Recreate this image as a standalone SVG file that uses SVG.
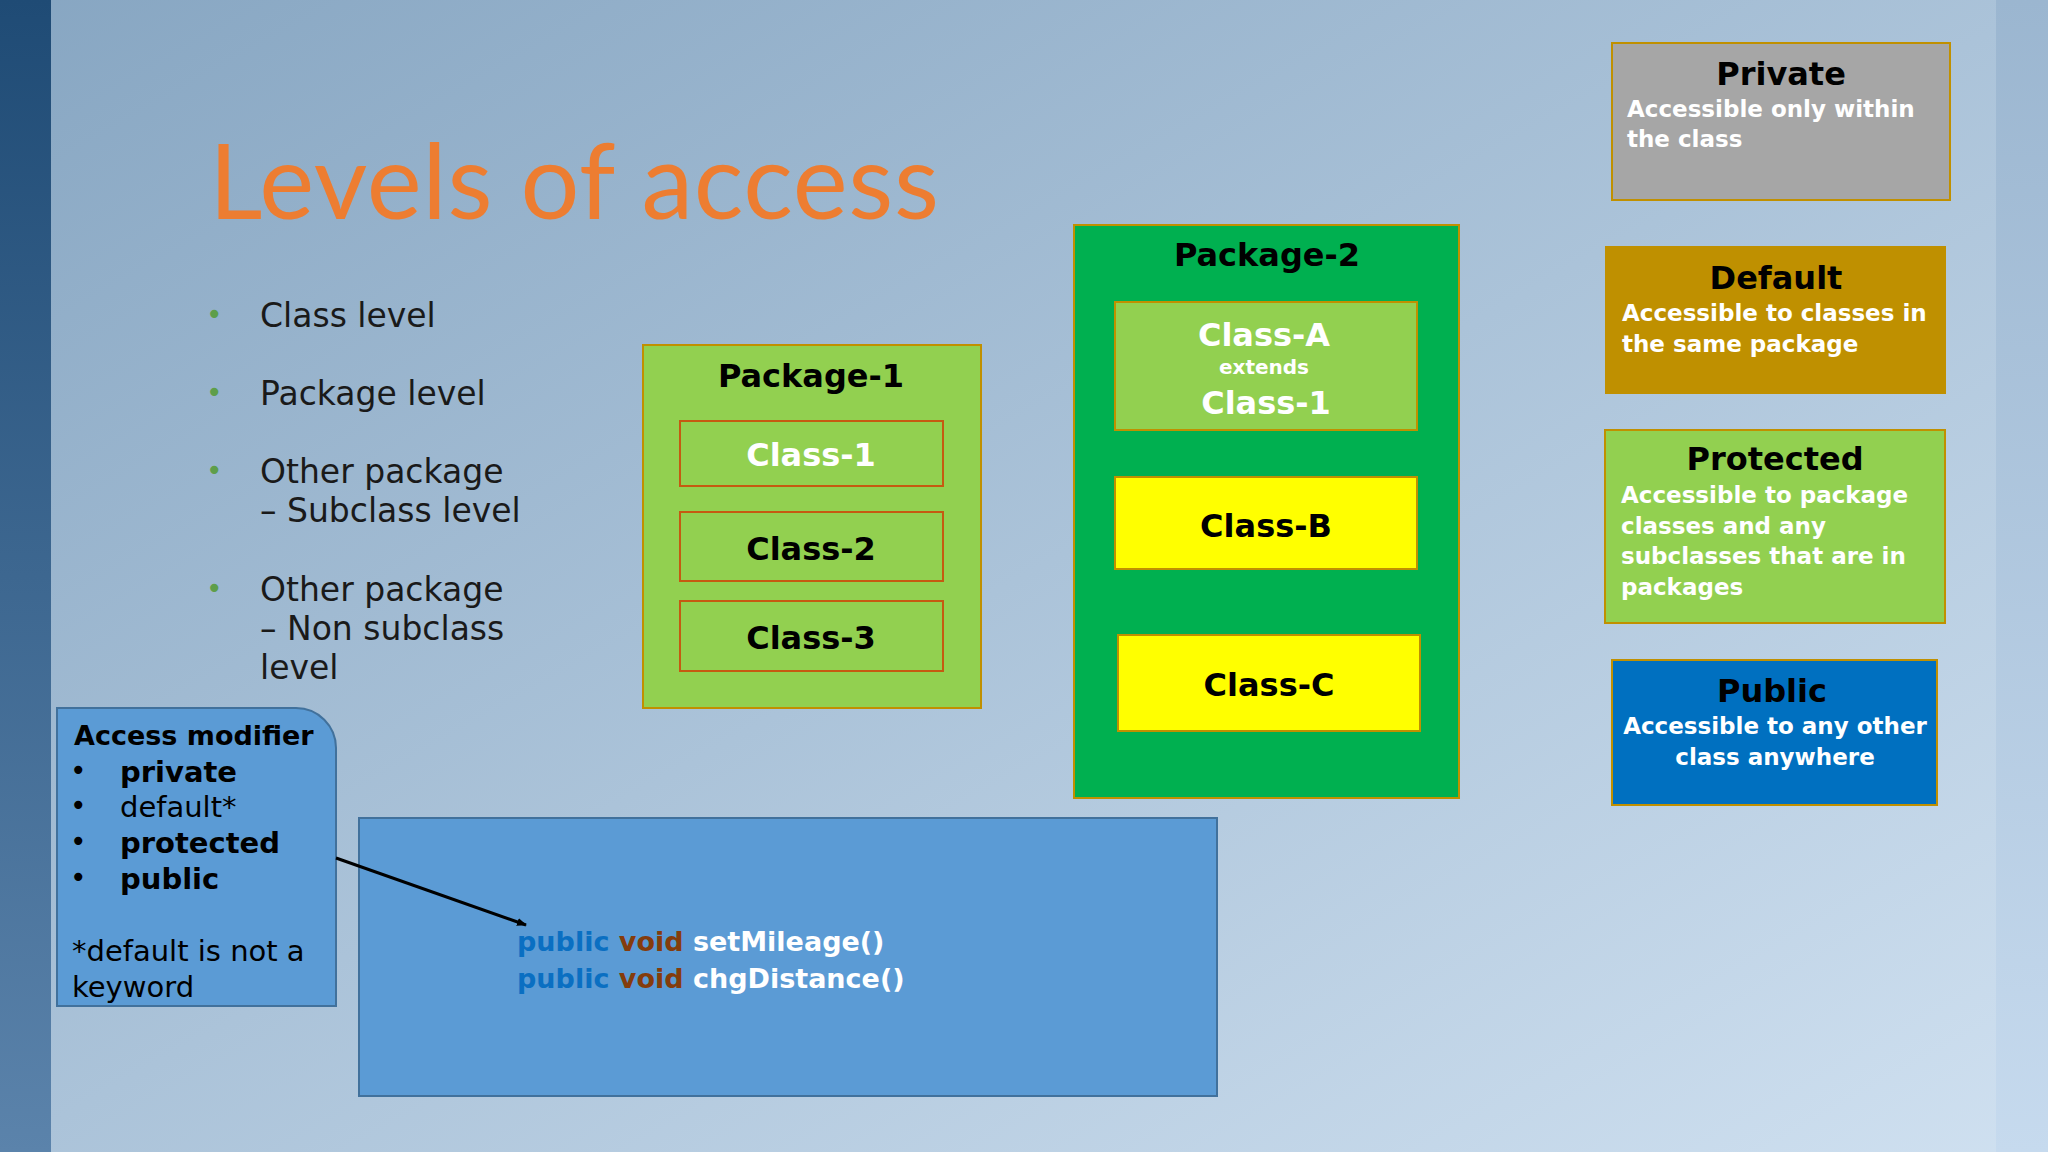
<svg xmlns="http://www.w3.org/2000/svg" width="2048" height="1152" viewBox="0 0 2048 1152">
<defs>
<linearGradient id="bg" x1="0" y1="0" x2="1" y2="1"><stop offset="0" stop-color="#87a6c2"/><stop offset="1" stop-color="#cfe0f0"/></linearGradient>
<linearGradient id="lbar" x1="0" y1="0" x2="0" y2="1"><stop offset="0" stop-color="#1f4b75"/><stop offset="1" stop-color="#5b83ab"/></linearGradient>
<linearGradient id="rbar" x1="0" y1="0" x2="0" y2="1"><stop offset="0" stop-color="#9bb6d0"/><stop offset="1" stop-color="#c6daee"/></linearGradient>
<marker id="ah" markerWidth="10" markerHeight="8" refX="9" refY="4" orient="auto" markerUnits="userSpaceOnUse"><path d="M0,0 L10,4 L0,8 z" fill="#000"/></marker>
</defs>
<style>
text{font-family:"DejaVu Sans","Noto Sans",sans-serif}
.b{font-weight:bold}
.bul{font-size:33px;fill:#1a1a1a}
.dot{font-size:28px;fill:#5e9e4a}
.cls{font-size:32px;font-weight:bold;text-anchor:middle}
.lt{font-size:32px;font-weight:bold;text-anchor:middle;fill:#000}
.ld{font-size:23px;font-weight:bold;fill:#fff}
.am{font-size:29px;fill:#000}
.code{font-size:27px;font-weight:bold}
</style>
<rect width="2048" height="1152" fill="url(#bg)"/>
<rect width="51" height="1152" fill="url(#lbar)"/>
<rect x="1996" width="52" height="1152" fill="url(#rbar)"/>
<text x="209" y="219" font-size="104" fill="#ed7d31" style="font-family:Lato,sans-serif" textLength="730">Levels of access</text>
<g id="bullets">
<text class="dot" x="206" y="324">•</text><text class="bul" x="260" y="327">Class level</text>
<text class="dot" x="206" y="402">•</text><text class="bul" x="260" y="405">Package level</text>
<text class="dot" x="206" y="480">•</text><text class="bul" x="260" y="483">Other package</text><text class="bul" x="260" y="522">– Subclass level</text>
<text class="dot" x="206" y="598">•</text><text class="bul" x="260" y="601">Other package</text><text class="bul" x="260" y="640">– Non subclass</text><text class="bul" x="260" y="679">level</text>
</g>
<g id="package1">
<rect x="643" y="345" width="338" height="363" fill="#92d050" stroke="#c09000" stroke-width="2"/>
<text class="lt" x="811" y="387">Package-1</text>
<rect x="680" y="421" width="263" height="65" fill="#92d050" stroke="#c55a11" stroke-width="2"/>
<text class="cls" x="811" y="466" fill="#fff">Class-1</text>
<rect x="680" y="512" width="263" height="69" fill="#92d050" stroke="#c55a11" stroke-width="2"/>
<text class="cls" x="811" y="560" fill="#000">Class-2</text>
<rect x="680" y="601" width="263" height="70" fill="#92d050" stroke="#c55a11" stroke-width="2"/>
<text class="cls" x="811" y="649" fill="#000">Class-3</text>
</g>
<g id="package2">
<rect x="1074" y="225" width="385" height="573" fill="#00b050" stroke="#c09000" stroke-width="2"/>
<text class="lt" x="1267" y="266">Package-2</text>
<rect x="1115" y="302" width="302" height="128" fill="#92d050" stroke="#c09000" stroke-width="2"/>
<text class="cls" x="1264" y="346" fill="#fff">Class-A</text>
<text x="1264" y="374" font-size="20" font-weight="bold" fill="#fff" text-anchor="middle">extends</text>
<text class="cls" x="1266" y="414" fill="#fff">Class-1</text>
<rect x="1115" y="477" width="302" height="92" fill="#ffff00" stroke="#c09000" stroke-width="2"/>
<text class="cls" x="1266" y="537" fill="#000">Class-B</text>
<rect x="1118" y="635" width="302" height="96" fill="#ffff00" stroke="#c09000" stroke-width="2"/>
<text class="cls" x="1269" y="696" fill="#000">Class-C</text>
</g>
<g id="private">
<rect x="1612" y="43" width="338" height="157" fill="#a6a6a6" stroke="#c09000" stroke-width="2"/>
<text class="lt" x="1781" y="85">Private</text>
<text class="ld" x="1627" y="117">Accessible only within</text><text class="ld" x="1627" y="147">the class</text>
</g>
<g id="default">
<rect x="1606" y="247" width="339" height="146" fill="#bf9000" stroke="#c09000" stroke-width="2"/>
<text class="lt" x="1776" y="289">Default</text>
<text class="ld" x="1622" y="321">Accessible to classes in</text><text class="ld" x="1622" y="352">the same package</text>
</g>
<g id="protected">
<rect x="1605" y="430" width="340" height="193" fill="#92d050" stroke="#c09000" stroke-width="2"/>
<text class="lt" x="1775" y="470">Protected</text>
<text class="ld" x="1621" y="503">Accessible to package</text><text class="ld" x="1621" y="534">classes and any</text><text class="ld" x="1621" y="564">subclasses that are in</text><text class="ld" x="1621" y="595">packages</text>
</g>
<g id="public">
<rect x="1612" y="660" width="325" height="145" fill="#0070c0" stroke="#c09000" stroke-width="2"/>
<text class="lt" x="1772" y="702">Public</text>
<text class="ld" x="1775" y="734" text-anchor="middle">Accessible to any other</text><text class="ld" x="1775" y="765" text-anchor="middle">class anywhere</text>
</g>
<g id="modifier">
<path d="M57,708 H296 A40,40 0 0 1 336,748 V1006 H57 Z" fill="#5b9bd5" stroke="#41719c" stroke-width="2"/>
<text class="b" x="74" y="745" font-size="27">Access modifier</text>
<text x="70" y="780" font-size="28">•</text><text class="am b" x="120" y="782">private</text>
<text x="70" y="815" font-size="28">•</text><text class="am" x="120" y="817">default*</text>
<text x="70" y="851" font-size="28">•</text><text class="am b" x="120" y="853">protected</text>
<text x="70" y="887" font-size="28">•</text><text class="am b" x="120" y="889">public</text>
<text class="am" x="72" y="961">*default is not a</text>
<text class="am" x="72" y="997">keyword</text>
</g>
<g id="code">
<rect x="359" y="818" width="858" height="278" fill="#5b9bd5" stroke="#41719c" stroke-width="2"/>
<text class="code" x="517" y="951"><tspan fill="#0a6fc2">public</tspan> <tspan fill="#843c0c">void</tspan> <tspan fill="#fff">setMileage()</tspan></text>
<text class="code" x="517" y="988"><tspan fill="#0a6fc2">public</tspan> <tspan fill="#843c0c">void</tspan> <tspan fill="#fff">chgDistance()</tspan></text>
</g>
<g id="connectors">
<line x1="336" y1="858" x2="526" y2="925" stroke="#000" stroke-width="3" marker-end="url(#ah)"/>
</g>
</svg>
